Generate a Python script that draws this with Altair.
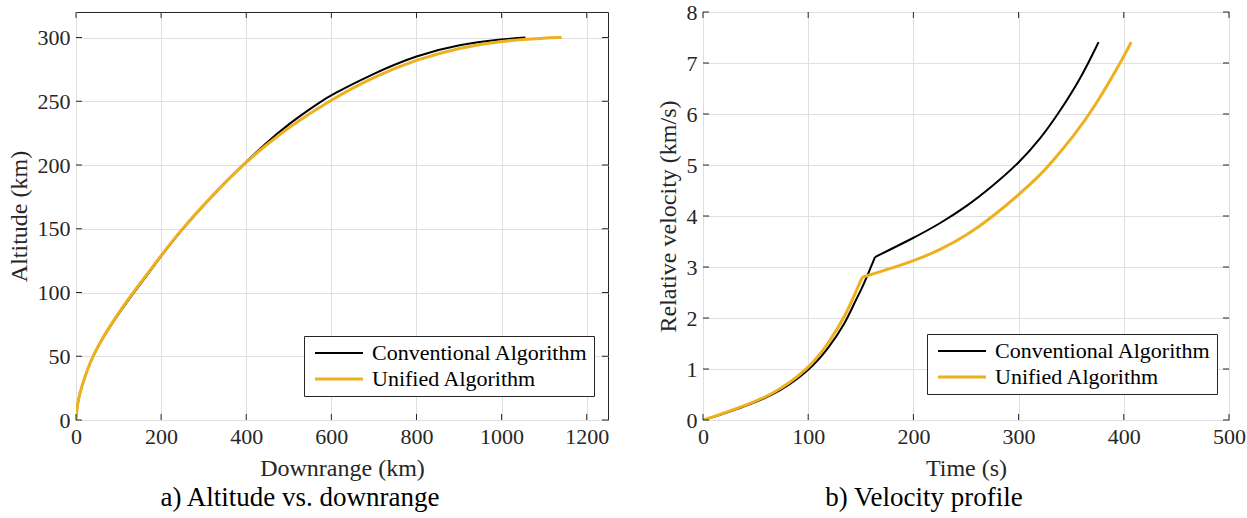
import altair as alt
import pandas as pd

SERIES = ["Conventional Algorithm", "Unified Algorithm"]
COLORS = ["#000000", "#EDB120"]
WIDTHS = [2.0, 3.0]

# Panel a) Altitude vs. downrange
conv_downrange = [0, 1, 4.7, 12.5, 37, 85, 136, 200, 241, 328, 392, 439, 502, 576, 600, 698, 800, 902, 1000, 1056]
conv_altitude = [0, 5, 15, 25.5, 50, 76.5, 100, 128.5, 146.5, 179, 200, 215, 233, 250, 255, 271.7, 286, 294.7, 298.6, 300]
uni_downrange = [0, 1, 4.7, 12.5, 37, 85, 134, 200, 241, 328, 392, 439, 502, 600, 698, 800, 902, 1000, 1100, 1141]
uni_altitude = [0, 5, 15, 25.5, 50, 77, 100, 129, 147, 179, 200, 213.6, 230.3, 251.4, 269, 282.8, 292, 297.4, 299.6, 300]

# Panel b) Velocity profile (kink = stage separation)
conv_time = [0, 15, 30, 65.6, 100, 119.7, 135.7, 144, 151, 157, 163.5, 200, 226, 251.4, 273.7, 300, 321.3, 336.9, 359, 376]
conv_velocity = [0, 0.09, 0.2, 0.457, 0.946, 1.415, 1.92, 2.3, 2.58, 2.87, 3.195, 3.567, 3.86, 4.20, 4.56, 5.03, 5.53, 5.98, 6.69, 7.41]
conv_kink = 10
uni_time = [0, 15, 30, 65.6, 100, 119.7, 135.7, 146, 151.4, 200, 226, 251.4, 273.7, 300, 321.3, 330.6, 352.7, 371.6, 400, 407]
uni_velocity = [0, 0.1, 0.21, 0.48, 0.99, 1.51, 2.06, 2.55, 2.80, 3.11, 3.34, 3.63, 3.96, 4.41, 4.82, 5.03, 5.58, 6.11, 7.12, 7.41]
uni_kink = 8

a_xticks = [0, 200, 400, 600, 800, 1000, 1200]
a_yticks = [0, 50, 100, 150, 200, 250, 300]
b_xticks = [0, 100, 200, 300, 400, 500]
b_yticks = [0, 1, 2, 3, 4, 5, 6, 7, 8]

FONT = "Liberation Serif"
DARK = "#262626"
TICK = 6
LEGEND_SYMBOL = "M-1,0H7"   # 48 px long line with symbolSize 144


def frame(xs, ys, kinks=(None, None)):
    rows = []
    for name, x, y, k in zip(SERIES, xs, ys, kinks):
        for i, (a, b) in enumerate(zip(x, y)):
            if k is None:
                rows.append({"x": a, "y": b, "series": name, "seg": name + "0", "idx": i})
            else:
                if i <= k:
                    rows.append({"x": a, "y": b, "series": name, "seg": name + "0", "idx": i})
                if i >= k:
                    rows.append({"x": a, "y": b, "series": name, "seg": name + "1", "idx": i})
    return pd.DataFrame(rows)


def panel(df, xdom, ydom, xt, yt, xtitle, ytitle, caption, W, H, lx, ly):
    xs = alt.Scale(domain=xdom, nice=False, zero=False)
    ys = alt.Scale(domain=ydom, nice=False, zero=False)
    xax = alt.Axis(values=xt, title=xtitle, grid=True, labelFlush=False, format="d", titlePadding=9)
    yax = alt.Axis(values=yt, title=ytitle, grid=True, format="d")
    lines = alt.Chart(df).mark_line(clip=True, strokeCap="butt", interpolate="basis").encode(
        x=alt.X("x:Q", scale=xs, axis=xax),
        y=alt.Y("y:Q", scale=ys, axis=yax),
        color=alt.Color("series:N", scale=alt.Scale(domain=SERIES, range=COLORS),
                        legend=alt.Legend(title=None, orient="none", legendX=lx, legendY=ly,
                                          symbolType=LEGEND_SYMBOL, symbolSize=144,
                                          symbolStrokeWidth=2.8, labelFont=FONT, labelFontSize=22,
                                          labelColor="#000000", strokeColor=DARK, fillColor="white",
                                          padding=6, rowPadding=4, labelOffset=40, labelLimit=400)),
        strokeWidth=alt.StrokeWidth("series:N", scale=alt.Scale(domain=SERIES, range=WIDTHS), legend=None),
        detail="seg:N",
        order="idx:Q",
    )
    xtd = pd.DataFrame({"x": xt})
    ytd = pd.DataFrame({"y": yt})
    bx = alt.Chart(xtd).mark_rule(color=DARK, strokeWidth=1).encode(
        x=alt.X("x:Q", scale=xs, axis=xax), y=alt.value(H), y2=alt.value(H - TICK))
    tx = alt.Chart(xtd).mark_rule(color=DARK, strokeWidth=1).encode(
        x=alt.X("x:Q", scale=xs, axis=xax), y=alt.value(0), y2=alt.value(TICK))
    lyr = alt.Chart(ytd).mark_rule(color=DARK, strokeWidth=1).encode(
        y=alt.Y("y:Q", scale=ys, axis=yax), x=alt.value(0), x2=alt.value(TICK))
    ryr = alt.Chart(ytd).mark_rule(color=DARK, strokeWidth=1).encode(
        y=alt.Y("y:Q", scale=ys, axis=yax), x=alt.value(W), x2=alt.value(W - TICK))
    return alt.layer(lines, bx, tx, lyr, ryr).properties(
        width=W, height=H,
        title=alt.TitleParams(caption, orient="bottom", font=FONT, fontSize=27,
                              fontWeight="normal", color="#000000", anchor="middle",
                              frame="group", dx=-42, offset=5),
    )


left = panel(frame([conv_downrange, uni_downrange], [conv_altitude, uni_altitude]),
             [0, 1250], [0, 320], a_xticks, a_yticks, "Downrange (km)", "Altitude (km)",
             "a) Altitude vs. downrange", 532, 408, 228, 324)
right = panel(frame([conv_time, uni_time], [conv_velocity, uni_velocity], (conv_kink, uni_kink)),
              [0, 500], [0, 8], b_xticks, b_yticks, "Time (s)", "Relative velocity (km/s)",
              "b) Velocity profile", 526, 408, 224, 322)

chart = alt.hconcat(left, right, spacing=45).resolve_scale(
    color="independent", strokeWidth="independent"
).resolve_legend(color="independent").properties(
    padding={"left": 6, "top": 0, "right": 0, "bottom": 0},
    background="white",
).configure_view(stroke=DARK, strokeWidth=1).configure_axis(
    labelFont=FONT, labelFontSize=22, labelColor=DARK,
    titleFont=FONT, titleFontSize=24, titleFontWeight="normal", titleColor=DARK,
    gridColor="#dfdfdf", gridWidth=1, domain=False, ticks=False,
    labelPadding=6, titlePadding=6,
)

chart.save("out.html", embed_options={"renderer": "svg", "actions": False})
